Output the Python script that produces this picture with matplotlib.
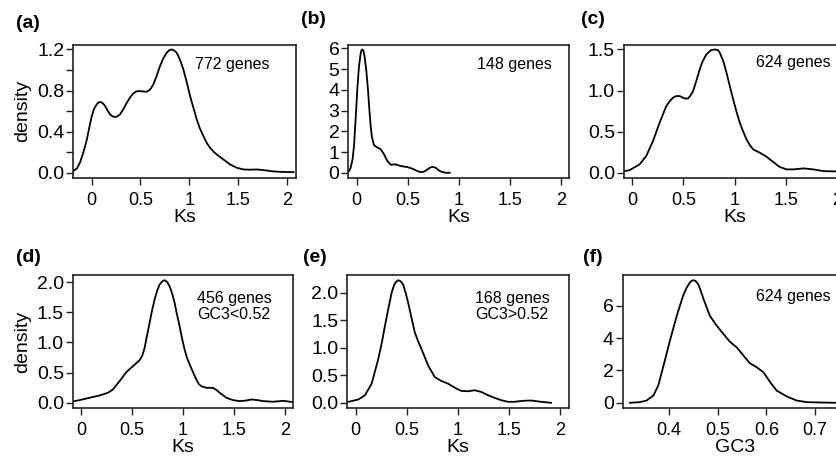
import numpy as np
import matplotlib
matplotlib.use('Agg')
import matplotlib.pyplot as plt

plt.rcParams['font.family'] = ['Liberation Sans', 'DejaVu Sans']

# --- data (density curves) ---
a_ks = [-0.188, -0.15, -0.12, -0.085, -0.051, -0.025, 0.0, 0.025, 0.051, 0.07, 0.092, 0.115, 0.137,
        0.16, 0.188, 0.215, 0.239, 0.265, 0.29, 0.325, 0.359, 0.395, 0.427, 0.455, 0.479, 0.52,
        0.564, 0.60, 0.632, 0.665, 0.70, 0.735, 0.769, 0.795, 0.82, 0.845, 0.872, 0.905, 0.94,
        0.975, 1.009, 1.045, 1.077, 1.11, 1.145, 1.18, 1.214, 1.25, 1.282, 1.35, 1.419, 1.487,
        1.556, 1.62, 1.692, 1.76, 1.863, 1.96, 2.07]
a_dens = [0.016, 0.045, 0.10, 0.20, 0.32, 0.44, 0.55, 0.625, 0.665, 0.685, 0.688, 0.675, 0.65,
          0.61, 0.568, 0.548, 0.542, 0.550, 0.568, 0.62, 0.681, 0.735, 0.772, 0.79, 0.795, 0.792,
          0.788, 0.81, 0.86, 0.94, 1.038, 1.115, 1.168, 1.192, 1.20, 1.19, 1.168, 1.10, 1.005,
          0.88, 0.746, 0.625, 0.519, 0.43, 0.357, 0.29, 0.243, 0.205, 0.178, 0.13, 0.081, 0.049,
          0.032, 0.030, 0.032, 0.026, 0.013, 0.008, 0.006]

b_ks = [-0.092, -0.075, -0.059, -0.04, -0.026, -0.01, 0.0065, 0.022, 0.039, 0.047, 0.056, 0.066,
        0.078, 0.095, 0.111, 0.125, 0.137, 0.15, 0.17, 0.203, 0.235, 0.268, 0.30, 0.333, 0.382,
        0.431, 0.497, 0.546, 0.595, 0.62, 0.644, 0.67, 0.693, 0.72, 0.742, 0.775, 0.80, 0.824,
        0.85, 0.873, 0.912]
b_dens = [0.03, 0.08, 0.24, 0.65, 1.3, 2.6, 4.05, 5.1, 5.75, 5.92, 5.95, 5.88, 5.6, 4.9, 4.0,
          3.0, 2.27, 1.7, 1.33, 1.22, 1.135, 0.89, 0.57, 0.39, 0.405, 0.324, 0.276, 0.195, 0.08,
          0.04, 0.03, 0.08, 0.16, 0.25, 0.29, 0.24, 0.13, 0.065, 0.02, 0.0, 0.0]

c_ks = [-0.108, -0.026, 0.072, 0.137, 0.203, 0.268, 0.333, 0.37, 0.399, 0.42, 0.448, 0.475,
        0.497, 0.52, 0.546, 0.57, 0.595, 0.625, 0.66, 0.69, 0.725, 0.77, 0.807, 0.84, 0.856,
        0.89, 0.922, 0.955, 0.987, 1.02, 1.052, 1.085, 1.118, 1.15, 1.183, 1.248, 1.314, 1.379,
        1.444, 1.51, 1.575, 1.673, 1.771, 1.869, 2.0, 2.1]
c_dens = [0.012, 0.032, 0.101, 0.203, 0.385, 0.608, 0.81, 0.875, 0.912, 0.928, 0.935, 0.928,
          0.912, 0.902, 0.904, 0.94, 0.993, 1.11, 1.257, 1.36, 1.439, 1.49, 1.50, 1.49, 1.459,
          1.36, 1.216, 1.05, 0.892, 0.74, 0.608, 0.50, 0.405, 0.335, 0.284, 0.243, 0.195, 0.13,
          0.069, 0.041, 0.041, 0.053, 0.041, 0.02, 0.016, 0.012]

d_ks = [-0.098, -0.016, 0.082, 0.18, 0.262, 0.311, 0.377, 0.443, 0.508, 0.574, 0.60, 0.623,
        0.645, 0.672, 0.695, 0.721, 0.745, 0.77, 0.795, 0.82, 0.845, 0.869, 0.895, 0.918, 0.94,
        0.967, 0.99, 1.016, 1.04, 1.066, 1.10, 1.131, 1.155, 1.18, 1.23, 1.295, 1.33, 1.361,
        1.426, 1.492, 1.557, 1.61, 1.672, 1.73, 1.787, 1.885, 1.984, 2.08]
d_dens = [0.017, 0.044, 0.083, 0.121, 0.165, 0.22, 0.358, 0.507, 0.606, 0.705, 0.78, 0.909,
          1.10, 1.322, 1.52, 1.708, 1.85, 1.956, 2.01, 2.03, 2.0, 1.928, 1.80, 1.653, 1.47, 1.267,
          1.07, 0.882, 0.74, 0.634, 0.50, 0.386, 0.31, 0.275, 0.248, 0.248, 0.21, 0.165, 0.083,
          0.044, 0.028, 0.035, 0.055, 0.045, 0.028, 0.017, 0.033, 0.011]

e_ks = [-0.071, 0.026, 0.091, 0.156, 0.221, 0.255, 0.286, 0.32, 0.351, 0.375, 0.395, 0.416,
        0.44, 0.464, 0.49, 0.513, 0.545, 0.578, 0.61, 0.643, 0.708, 0.773, 0.838, 0.903, 0.968,
        1.032, 1.097, 1.162, 1.227, 1.292, 1.357, 1.422, 1.487, 1.552, 1.633, 1.714, 1.812, 1.909]
e_dens = [0.018, 0.06, 0.138, 0.348, 0.799, 1.09, 1.40, 1.72, 2.0, 2.14, 2.2, 2.23, 2.21, 2.15,
          1.99, 1.82, 1.55, 1.279, 1.12, 0.979, 0.679, 0.468, 0.396, 0.348, 0.276, 0.216, 0.21,
          0.228, 0.198, 0.138, 0.09, 0.048, 0.018, 0.018, 0.036, 0.042, 0.018, 0.0]

f_gc3 = [0.32, 0.34, 0.354, 0.368, 0.378, 0.388, 0.402, 0.416, 0.429, 0.436, 0.443, 0.447, 0.451,
         0.455, 0.46, 0.465, 0.471, 0.484, 0.498, 0.512, 0.525, 0.539, 0.553, 0.566, 0.58, 0.594,
         0.608, 0.621, 0.642, 0.662, 0.683, 0.71, 0.744, 0.77]
f_dens = [0.0, 0.04, 0.14, 0.45, 1.07, 2.2, 3.84, 5.38, 6.62, 7.1, 7.44, 7.55, 7.58, 7.52, 7.33,
          6.95, 6.41, 5.38, 4.77, 4.25, 3.78, 3.43, 2.92, 2.45, 2.2, 1.89, 1.27, 0.76, 0.39,
          0.14, 0.04, 0.02, 0.0, 0.0]

panel_tags = ['(a)', '(b)', '(c)', '(d)', '(e)', '(f)']
notes = ['772 genes', '148 genes', '624 genes', '456 genes\nGC3<0.52', '168 genes\nGC3>0.52', '624 genes']
ks_ticks = [0, 0.5, 1, 1.5, 2]
ks_ticklabels = ['0', '0.5', '1', '1.5', '2']
gc3_ticks = [0.4, 0.5, 0.6, 0.7]

W, H = 837, 458
fig = plt.figure(figsize=(W / 100, H / 100), dpi=100)


def px_axes(l, t, w, h):
    return fig.add_axes([l / W, 1 - (t + h) / H, w / W, h / H])


def px_text(x, y, s, **kw):
    fig.text(x / W, 1 - y / H, s, **kw)


# axes boxes in pixel coords (left, top, width, height)
boxes = [(73.2, 44.5, 222.3, 133.2), (348.5, 44.5, 220.5, 133.2), (624, 44.5, 221, 133.2),
         (73, 275.3, 220, 132.4), (347.5, 275.3, 221, 132.4), (622.7, 275.3, 224, 132.4)]
series = [(a_ks, a_dens), (b_ks, b_dens), (c_ks, c_dens), (d_ks, d_dens), (e_ks, e_dens), (f_gc3, f_dens)]
xlims = [(-0.19, 2.09), (-0.08, 2.08), (-0.08, 2.08), (-0.08, 2.08), (-0.08, 2.08), (0.305, 0.765)]
yticks = [np.arange(0, 1.21, 0.2), range(0, 7), np.arange(0, 1.51, 0.5),
          np.arange(0, 2.01, 0.5), np.arange(0, 2.01, 0.5), [0, 2, 4, 6]]
yticklabels = [['0.0', '', '0.4', '', '0.8', '', '1.2'], [str(i) for i in range(7)],
               ['0.0', '0.5', '1.0', '1.5'], ['0.0', '0.5', '1.0', '1.5', '2.0'],
               ['0.0', '0.5', '1.0', '1.5', '2.0'], ['0', '2', '4', '6']]

axes = []
for i, (box, (xs, ys)) in enumerate(zip(boxes, series)):
    ax = px_axes(*box)
    ax.plot(xs, ys, color='black', lw=1.3, solid_joinstyle='round')
    ymax = max(ys)
    ax.set_ylim(-0.04 * ymax, 1.04 * ymax)
    ax.set_xlim(*xlims[i])
    ax.set_yticks(yticks[i])
    ax.set_yticklabels(yticklabels[i])
    if i < 5:
        ax.set_xticks(ks_ticks)
        ax.set_xticklabels(ks_ticklabels)
        ax.set_xlabel('Ks', fontsize=14, labelpad=0)
    else:
        ax.set_xticks(gc3_ticks)
        ax.set_xticklabels(['0.4', '0.5', '0.6', '0.7'])
        ax.set_xlabel('GC3', fontsize=14, labelpad=0)
    ax.tick_params(axis='both', length=5, width=1, color='#222222')
    ax.tick_params(axis='x', labelsize=13, pad=5)
    ax.tick_params(axis='y', labelsize=14, pad=1.5)
    for sp in ax.spines.values():
        sp.set_linewidth(1.2)
        sp.set_color('#222222')
    axes.append(ax)

axes[0].set_ylabel('density', fontsize=14, labelpad=4)
axes[3].set_ylabel('density', fontsize=14, labelpad=4)

# panel tags
tag_pos = [(16, 23.5), (301.5, 20), (581.5, 20), (16.5, 258), (303, 257), (582.5, 257)]
for tag, (x, y) in zip(panel_tags, tag_pos):
    px_text(x, y, tag, fontsize=14, fontweight='bold', ha='left', va='center')

# gene-count notes
note_pos = [(195.5, 65), (477, 64), (756.5, 63), (197.5, 306.5), (475, 306.5), (756.5, 296)]
for s, (x, y) in zip(notes, note_pos):
    px_text(x, y, s, fontsize=11.5, ha='left', va='center', linespacing=1.15)

fig.savefig('out.png', dpi=100)
